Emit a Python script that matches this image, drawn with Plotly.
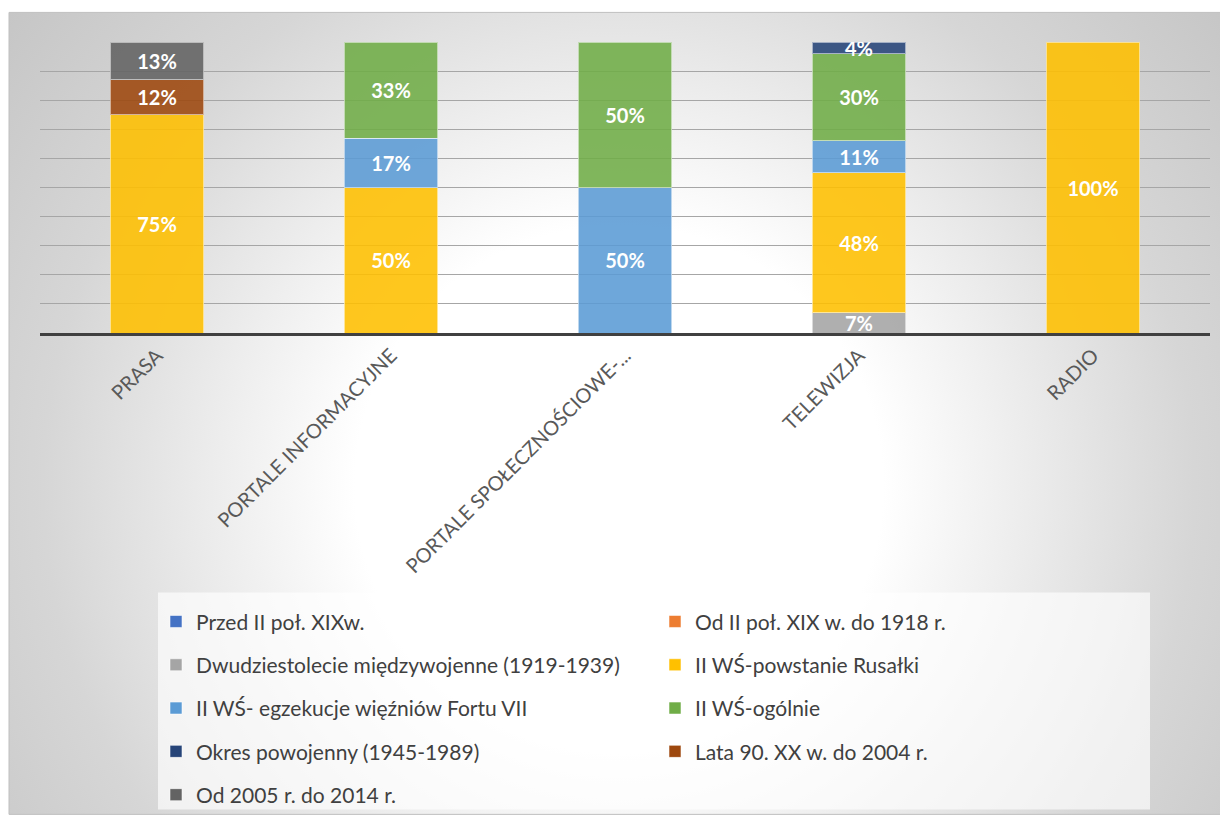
import base64
import plotly.graph_objects as go

categories = ["PRASA", "PORTALE INFORMACYJNE", "PORTALE SPOŁECZNOŚCIOWE-...", "TELEWIZJA", "RADIO"]

series_names = [
    "Przed II poł. XIXw.",
    "Od II poł. XIX w. do 1918 r.",
    "Dwudziestolecie międzywojenne (1919-1939)",
    "II WŚ-powstanie Rusałki",
    "II WŚ- egzekucje więźniów Fortu VII",
    "II WŚ-ogólnie",
    "Okres powojenny (1945-1989)",
    "Lata 90. XX w. do 2004 r.",
    "Od 2005 r. do 2014 r.",
]

przed_ii_pol = [0, 0, 0, 0, 0]
od_ii_pol_do_1918 = [0, 0, 0, 0, 0]
dwudziestolecie = [0, 0, 0, 0.07, 0]
powstanie_rusalki = [0.75, 0.50, 0, 0.48, 1.00]
egzekucje_fort_vii = [0, 0.17, 0.50, 0.11, 0]
ii_ws_ogolnie = [0, 0.33, 0.50, 0.30, 0]
okres_powojenny = [0, 0, 0, 0.04, 0]
lata_90 = [0.12, 0, 0, 0, 0]
od_2005 = [0.13, 0, 0, 0, 0]

series_values = [przed_ii_pol, od_ii_pol_do_1918, dwudziestolecie, powstanie_rusalki,
                 egzekucje_fort_vii, ii_ws_ogolnie, okres_powojenny, lata_90, od_2005]
colors = ["#4472C4", "#ED7D31", "#A5A5A5", "#FFC000", "#5B9BD5",
          "#70AD47", "#264478", "#9E480E", "#636363"]

# the page puts the figure 8px in from the top-left corner
OFF = 8
W, H = 1228 - OFF, 827 - OFF
L, R, T, B = 40, 1210, 42, 337  # plot area, page px


def px_x(p):
    return (p - L) / (R - L)


def px_y(p):
    return (B - p) / (B - T)


fig = go.Figure()
for i, (name, vals, col) in enumerate(zip(series_names, series_values, colors)):
    fig.add_trace(go.Bar(
        x=categories,
        y=[v if v else None for v in vals],
        name=name,
        legend="legend" if i % 2 == 0 else "legend2",
        legendgroup=name,
        marker=dict(color=col, opacity=0.88,
                    line=dict(color="rgba(255,255,255,0.55)", width=1)),
        texttemplate="%{y:.0%}",
        textposition="inside",
        insidetextanchor="middle",
        constraintext="none",
        textfont=dict(family="Lato", size=20, color="white", weight="bold"),
        hoverinfo="skip",
    ))

# radial gradient background as svg image
svg = (
    '<svg xmlns="http://www.w3.org/2000/svg" width="1216" height="813" viewBox="0 0 1216 813">'
    '<defs><radialGradient id="g" gradientUnits="userSpaceOnUse" cx="610" cy="480" r="800">'
    '<stop offset="0.33" stop-color="#ffffff"/>'
    '<stop offset="0.72" stop-color="#d6d6d6"/>'
    '<stop offset="1" stop-color="#c4c4c4"/>'
    '</radialGradient></defs>'
    '<rect width="1216" height="813" fill="url(#g)"/></svg>'
)
src = "data:image/svg+xml;base64," + base64.b64encode(svg.encode()).decode()

fig.add_layout_image(dict(
    source=src, xref="paper", yref="paper",
    x=px_x(9), y=px_y(12), sizex=px_x(1225) - px_x(9), sizey=px_y(12) - px_y(825),
    xanchor="left", yanchor="top", sizing="stretch", layer="below",
))

# outer frame and legend box
fig.add_shape(type="rect", xref="paper", yref="paper",
              x0=px_x(9), x1=px_x(1225), y0=px_y(825), y1=px_y(12),
              line=dict(color="#bfbfbf", width=1), fillcolor="rgba(0,0,0,0)", layer="below")
fig.add_shape(type="rect", xref="paper", yref="paper",
              x0=px_x(158), x1=px_x(1150), y0=px_y(820), y1=px_y(600),
              line=dict(width=0), fillcolor="rgba(255,255,255,0.65)", layer="below")

legend_style = dict(
    orientation="v",
    yanchor="top", xanchor="left",
    traceorder="grouped",
    tracegroupgap=13,
    bgcolor="rgba(0,0,0,0)",
    font=dict(family="Lato", size=21, color="#404040"),
)

fig.update_layout(
    width=W, height=H,
    margin=dict(l=L - OFF, r=W - (R - OFF), t=T - OFF, b=H - (B - OFF), pad=0),
    barmode="stack",
    bargap=0.6,
    paper_bgcolor="white",
    plot_bgcolor="rgba(0,0,0,0)",
    font=dict(family="Lato", color="#404040"),
    showlegend=True,
    legend=dict(x=px_x(156), y=px_y(609), **legend_style),
    legend2=dict(x=px_x(655), y=px_y(609), **legend_style),
    xaxis=dict(
        tickangle=-45,
        tickfont=dict(family="Lato", size=20, color="#595959"),
        showline=True, linecolor="#404040", linewidth=3,
        ticks="", showgrid=False,
    ),
    yaxis=dict(
        range=[0, 1], dtick=0.1,
        showticklabels=False,
        showgrid=True, gridcolor="#a6a6a6", gridwidth=1,
        zeroline=False,
    ),
)

fig.write_html("out.html")
